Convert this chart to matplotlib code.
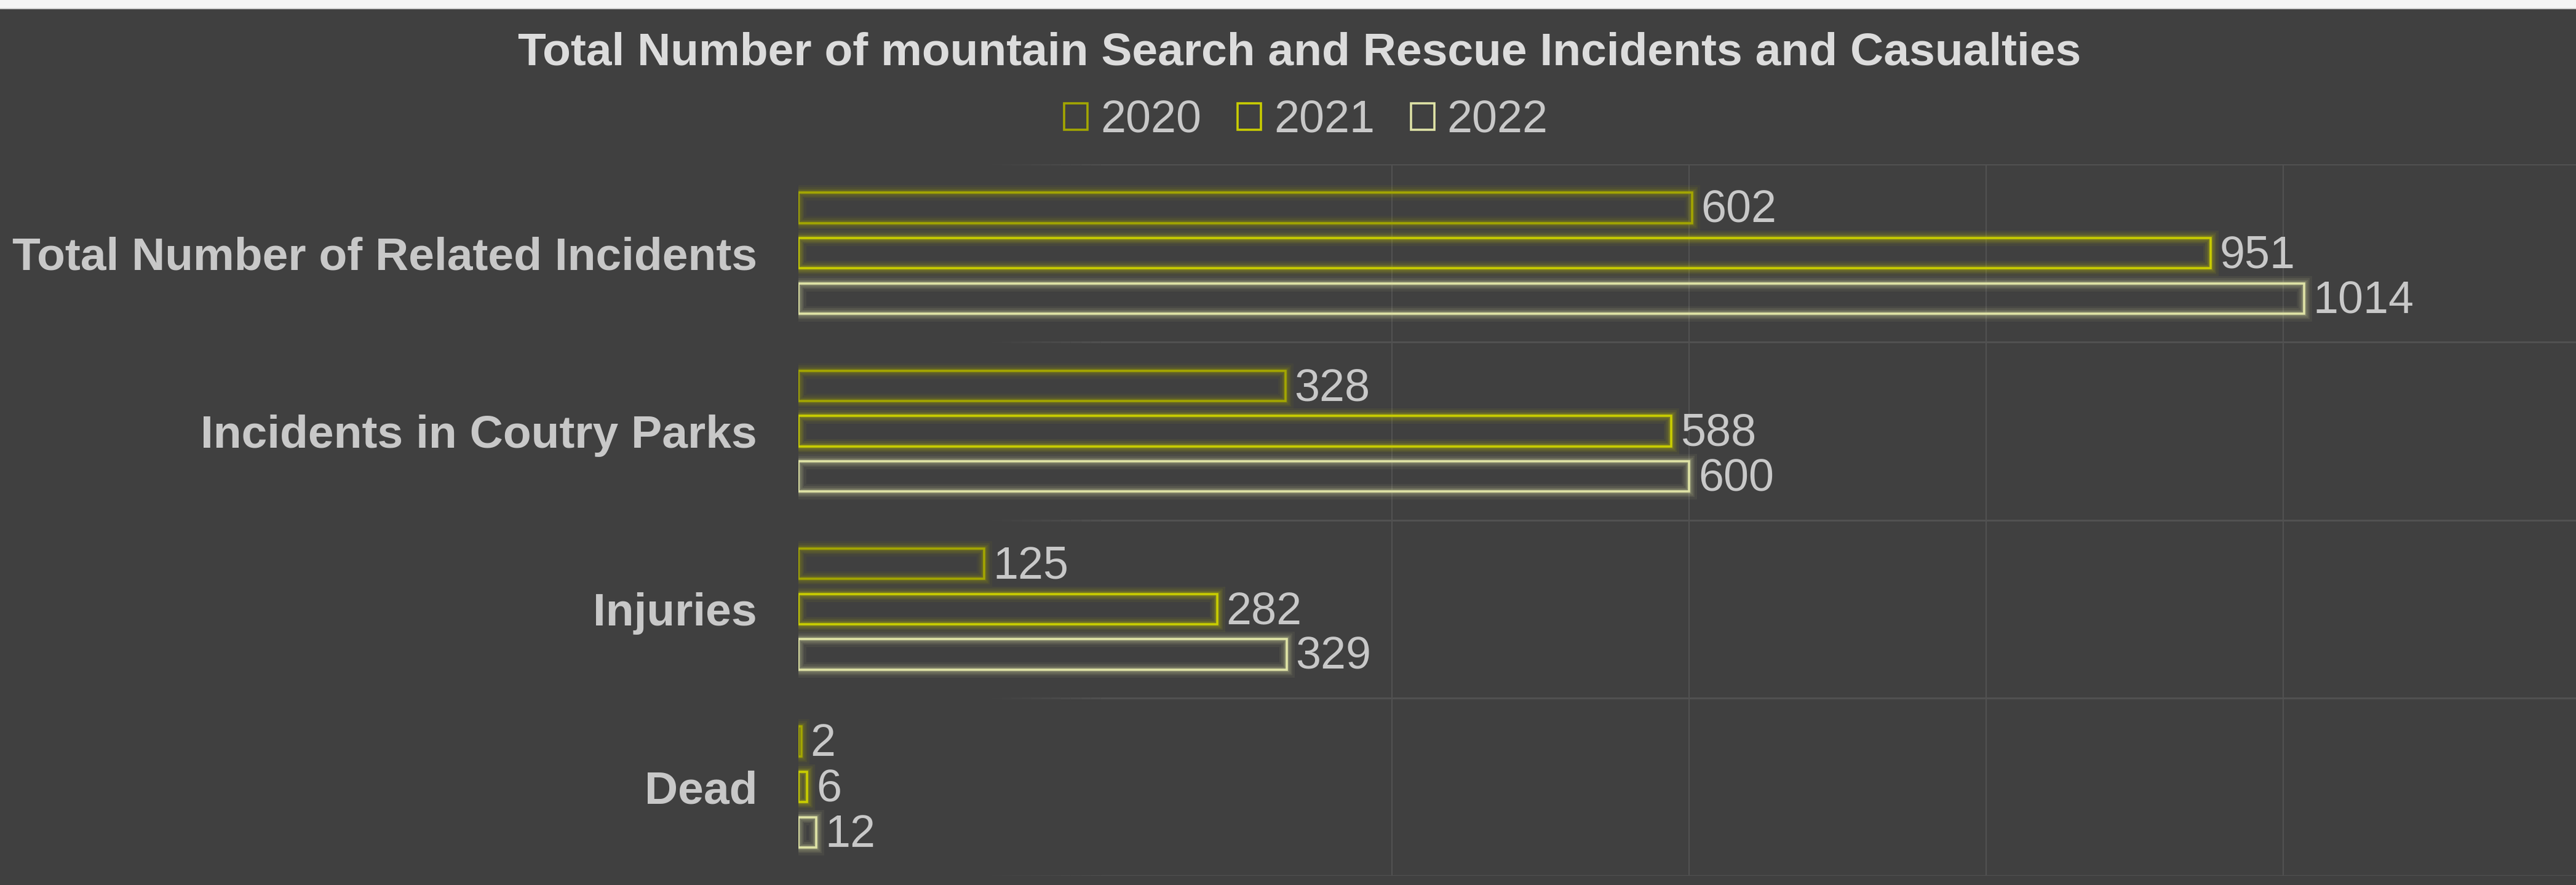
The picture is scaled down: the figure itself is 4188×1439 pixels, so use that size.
import numpy as np
import matplotlib
matplotlib.use("Agg")
import matplotlib.pyplot as plt
import matplotlib.patheffects as pe
from matplotlib.patches import Patch, Rectangle

categories = ["Total Number of Related Incidents", "Incidents in Coutry Parks", "Injuries", "Dead"]
years = ["2020", "2021", "2022"]
v2020 = [602, 328, 125, 2]
v2021 = [951, 588, 282, 6]
v2022 = [1014, 600, 329, 12]
x_ticks = [0, 200, 400, 600, 800, 1000, 1200]

colors = ["#a3a600", "#c9cd00", "#dfe3a6"]
bg = "#404040"
text_col = "#c8c8c8"
grid_col = "#515151"
fs = 53

plt.rcParams["font.family"] = ["Liberation Sans", "DejaVu Sans"]

fig = plt.figure(figsize=(41.88, 14.39), dpi=100, facecolor=bg)
ax = fig.add_axes([0.3099, 0.0104, 0.6917, 0.804])
ax.set_facecolor(bg)

# white strip at the very top (cropped page above the chart)
fig.patches.append(Rectangle((0, 1 - 13 / 1439), 1, 13 / 1439, transform=fig.transFigure,
                             facecolor="#f4f4f4", edgecolor="none", zorder=5))
fig.patches.append(Rectangle((0, 1 - 15 / 1439), 1, 2 / 1439, transform=fig.transFigure,
                             facecolor="#d0d0d0", edgecolor="none", zorder=5))

y = np.arange(len(categories))
offsets = [-0.255, 0.0, 0.255]
bar_h = 0.17
series = [v2020, v2021, v2022]

# gridlines: vertical
for xv in x_ticks[2:]:
    ax.axvline(xv, color=grid_col, lw=1.6, zorder=0)
# horizontal category separators, fading in from the left
for yb in np.arange(-0.5, len(categories), 1.0):
    n = 12
    xs = np.linspace(130, 210, n + 1)
    for i in range(n):
        ax.plot([xs[i], xs[i + 1]], [yb, yb], color=grid_col, lw=2.2,
                alpha=(i + 1) / n, solid_capstyle="butt", zorder=0)
    ax.plot([210, 1200], [yb, yb], color=grid_col, lw=2.2, zorder=0)

glow = [(18, 0.06), (13, 0.09), (9, 0.13), (5.5, 0.2)]

for vals, off, c, yr in zip(series, offsets, colors, years):
    bars = ax.barh(y + off, vals, height=bar_h, facecolor="none", edgecolor=c,
                   linewidth=2.6, zorder=3, label=yr)
    for b in bars:
        b.set_path_effects([pe.Stroke(linewidth=w, foreground=c, alpha=a) for w, a in glow]
                           + [pe.Normal()])
    for yy, v in zip(y + off, vals):
        ax.text(v + 6, yy + 0.015, str(v), color=text_col, fontsize=fs, va="center", ha="left",
                zorder=4)

ax.set_xlim(0, 1200)
ax.set_ylim(len(categories) - 0.5, -0.5)
ax.set_yticks(y)
ax.set_yticklabels(categories, fontsize=54, fontweight="bold", color=text_col)
ax.tick_params(axis="y", length=0, pad=48)
ax.set_xticks([])
for s in ax.spines.values():
    s.set_visible(False)

fig.text(0.5045, 0.940, "Total Number of mountain Search and Rescue Incidents and Casualties",
         ha="center", va="center", fontsize=54, fontweight="bold", color="#dcdcdc")

handles = [Patch(facecolor="none", edgecolor=c, linewidth=2.6, label=yr)
           for c, yr in zip(colors, years)]
leg = fig.legend(handles=handles, loc="center", bbox_to_anchor=(0.507, 0.864), ncol=3,
                 frameon=False, fontsize=fs, handlelength=0.52, handleheight=0.52,
                 handletextpad=0.28, columnspacing=0.8, labelcolor=text_col)

fig.savefig("out.png", dpi=100, facecolor=bg)
